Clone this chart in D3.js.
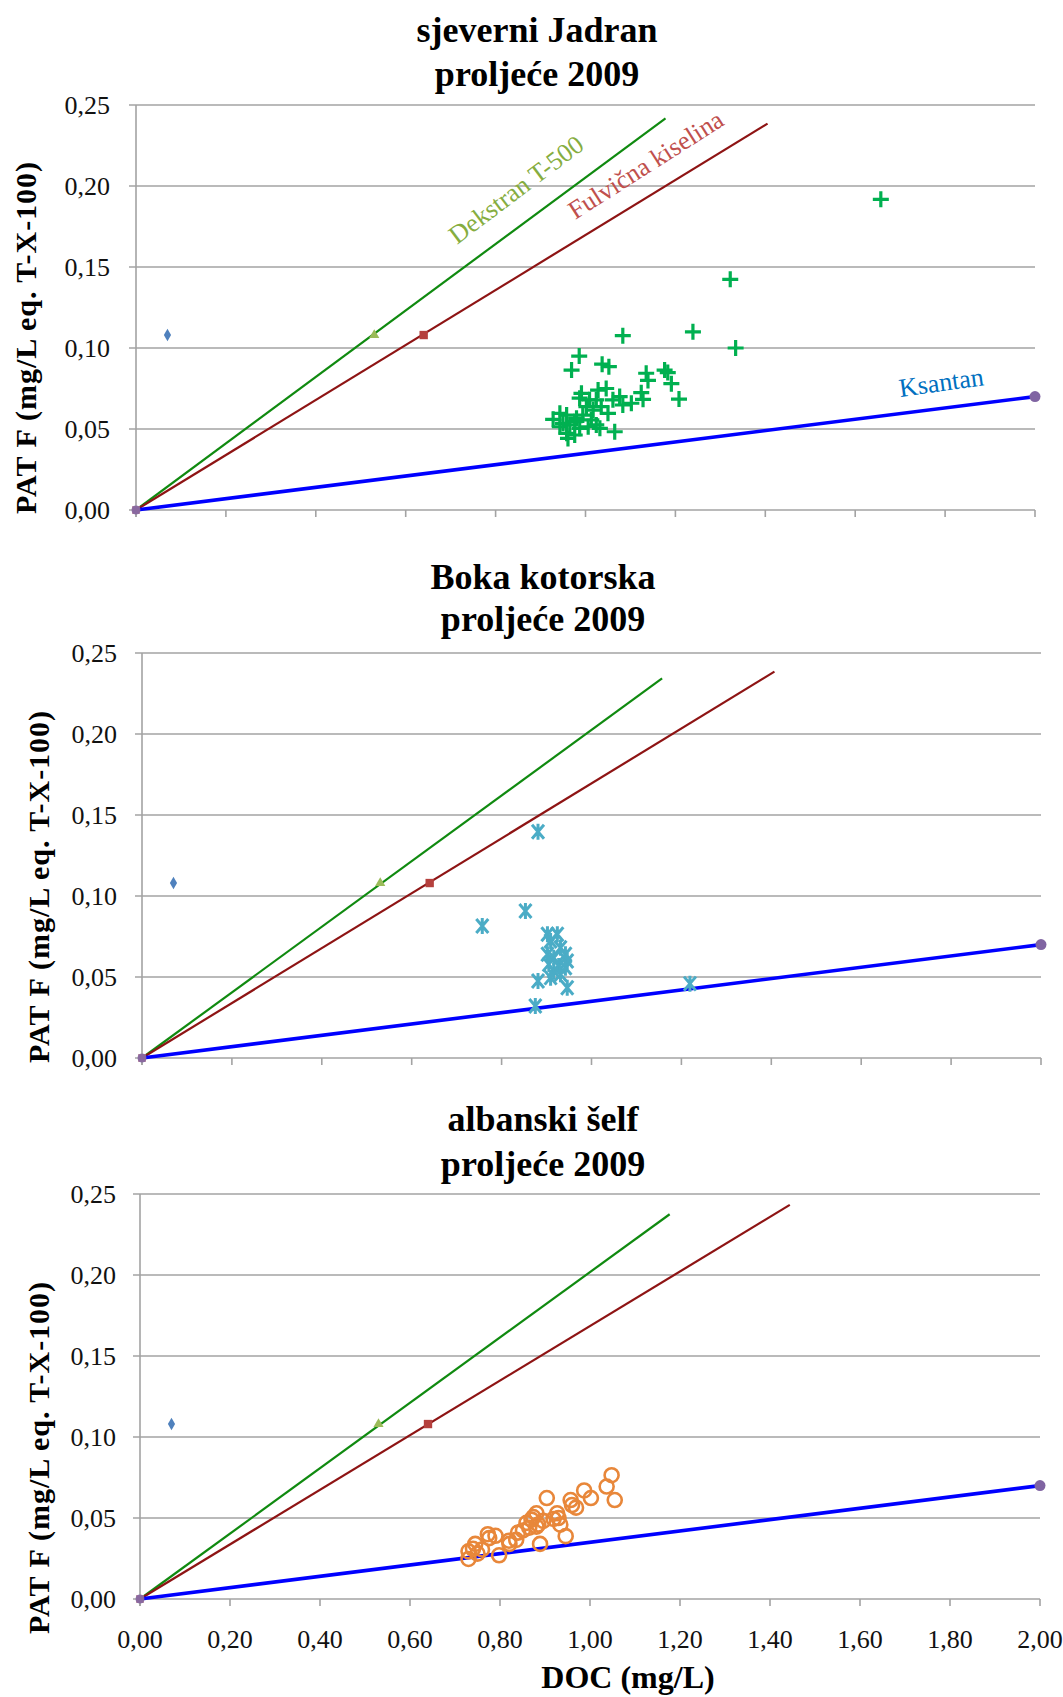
<!DOCTYPE html>
<html><head><meta charset="utf-8">
<script src="https://cdn.jsdelivr.net/npm/d3@7"></script>
<style>body{margin:0;background:#fff} svg{display:block}</style>
</head><body><svg id="c" width="1063" height="1697"></svg>
<script>
// ---------- DATA ----------
const xTicks = [0, 0.2, 0.4, 0.6, 0.8, 1.0, 1.2, 1.4, 1.6, 1.8, 2.0];
const yTicks = [0, 0.05, 0.10, 0.15, 0.20, 0.25];
const titles = ["sjeverni Jadran", "Boka kotorska", "albanski šelf"];
const subtitle = "proljeće 2009";
const yLabel = "PAT F (mg/L eq. T-X-100)";
const xLabel = "DOC (mg/L)";
const lineNames = ["Dekstran T-500", "Fulvična kiselina", "Ksantan"];

// standards (DOC, PAT F)
const diamondStd = [0.07, 0.108];
const triangleStd = [0.53, 0.108];
const squareStd = [0.64, 0.108];
const ksantanStd = [2.0, 0.07];
const origin = [0, 0];

// calibration line end points per panel
const dekstranEnd = [[1.178, 0.2418], [1.157, 0.2343], [1.177, 0.2375]];
const fulvicEnd   = [[1.405, 0.2385], [1.407, 0.2385], [1.444, 0.2433]];
const ksantanEnd  = [[2.0, 0.07], [2.0, 0.07], [2.0, 0.07]];

// samples
const jadranPts = [
 [1.083,0.1076],[1.239,0.110],[1.334,0.100],[0.986,0.095],[0.969,0.0864],[1.037,0.090],[1.052,0.0885],
 [1.135,0.0844],[1.176,0.0864],[1.183,0.0848],[1.139,0.080],[1.191,0.078],[1.208,0.0685],[1.124,0.0724],
 [1.128,0.0683],[1.102,0.0659],[1.076,0.070],[1.083,0.0648],[1.061,0.068],[1.046,0.075],[1.028,0.074],
 [1.024,0.068],[1.009,0.068],[0.991,0.072],[0.987,0.069],[1.002,0.0638],[1.017,0.0617],[1.035,0.0638],
 [1.050,0.0597],[0.994,0.0586],[0.980,0.0566],[1.013,0.0556],[0.943,0.0597],[0.928,0.056],[0.958,0.0586],
 [0.950,0.0535],[0.965,0.0525],[0.943,0.0514],[0.958,0.0473],[0.961,0.0442],[0.976,0.0463],[0.987,0.0504],
 [1.006,0.0514],[1.032,0.0504],[1.065,0.0483],[1.024,0.0525],[0.976,0.0545],[1.657,0.1918],[1.322,0.1424]
];
const bokaPts = [
 [0.881,0.1397],[0.853,0.0907],[0.757,0.0815],[0.902,0.0764],[0.924,0.0764],[0.909,0.0722],[0.931,0.068],
 [0.942,0.064],[0.902,0.064],[0.916,0.0619],[0.946,0.0599],[0.905,0.0578],[0.927,0.0568],[0.942,0.0557],
 [0.916,0.0537],[0.931,0.0517],[0.909,0.0496],[0.881,0.0475],[0.946,0.0434],[0.875,0.0321],[1.219,0.0459]
];
const albaniaPts = [
 [0.730,0.0294],[0.730,0.0247],[0.745,0.034],[0.760,0.0306],[0.776,0.0376],[0.773,0.040],[0.798,0.027],
 [0.821,0.034],[0.836,0.0365],[0.851,0.0423],[0.859,0.047],[0.874,0.0506],[0.881,0.0529],[0.881,0.0447],
 [0.896,0.0482],[0.904,0.0623],[0.889,0.034],[0.919,0.0494],[0.927,0.0529],[0.934,0.0459],[0.946,0.0388],
 [0.957,0.0611],[0.969,0.0564],[0.987,0.067],[1.002,0.0623],[1.037,0.0694],[1.048,0.0764],[1.055,0.0611],
 [0.740,0.031],[0.750,0.028],[0.790,0.039],[0.820,0.036],[0.840,0.041],[0.865,0.044],[0.870,0.049],
 [0.885,0.046],[0.930,0.050],[0.960,0.058]
];
const samples = [jadranPts, bokaPts, albaniaPts];
const sampleKind = ["plus", "star", "circle"];

// ---------- LAYOUT ----------
const layout = [
 {x0:136, x1:1035, yT:105, yB:510, tX:537, tY:[42,86], lX:36, lY:338, tickR:110},
 {x0:142, x1:1041, yT:653, yB:1058, tX:543, tY:[589,631], lX:49, lY:887, tickR:117},
 {x0:140, x1:1040, yT:1194, yB:1599, tX:543, tY:[1131,1176], lX:49, lY:1458, tickR:116}
];
const serif = "'Liberation Serif','Times New Roman',serif";
const loc = d3.formatLocale({decimal:",", thousands:".", grouping:[3], currency:["",""]});
const f2 = loc.format(".2f");

const svg = d3.select("#c");
svg.append("rect").attr("width",1063).attr("height",1697).attr("fill","#fff");

layout.forEach((L, i) => {
  const x = d3.scaleLinear().domain([0, 2]).range([L.x0, L.x1]);
  const y = d3.scaleLinear().domain([0, 0.25]).range([L.yB, L.yT]);
  const g = svg.append("g");

  // title
  g.append("text").attr("x", L.tX).attr("y", L.tY[0]).attr("text-anchor","middle")
    .attr("font-family", serif).attr("font-weight","bold").attr("font-size",36).text(titles[i]);
  g.append("text").attr("x", L.tX).attr("y", L.tY[1]).attr("text-anchor","middle")
    .attr("font-family", serif).attr("font-weight","bold").attr("font-size",36).text(subtitle);

  // gridlines
  g.selectAll(".grid").data(yTicks).enter().append("line")
    .attr("x1", L.x0 - 7).attr("x2", L.x1).attr("y1", d => y(d)).attr("y2", d => y(d))
    .attr("stroke", "#a3a3a3").attr("stroke-width", 1.6);
  // y axis line
  g.append("line").attr("x1", L.x0).attr("x2", L.x0).attr("y1", y(0.25)).attr("y2", y(0) + 7)
    .attr("stroke", "#a3a3a3").attr("stroke-width", 1.6);
  // x ticks
  g.selectAll(".xt").data(xTicks).enter().append("line")
    .attr("x1", d => x(d)).attr("x2", d => x(d)).attr("y1", y(0)).attr("y2", y(0) + 7)
    .attr("stroke", "#a3a3a3").attr("stroke-width", 1.6);
  // y tick labels
  g.selectAll(".yl").data(yTicks).enter().append("text")
    .attr("x", L.tickR).attr("y", d => y(d)).attr("dy", "0.35em").attr("text-anchor","end")
    .attr("font-family", serif).attr("font-size", 26).attr("fill","#111").text(d => f2(d));
  // y label
  g.append("text").attr("transform", `translate(${L.lX},${L.lY}) rotate(-90)`)
    .attr("text-anchor","middle").attr("font-family", serif).attr("font-weight","bold")
    .attr("font-size", 30).attr("textLength", 352).attr("lengthAdjust","spacing").text(yLabel);

  if (i === 2) {
    g.selectAll(".xl").data(xTicks).enter().append("text")
      .attr("x", d => x(d)).attr("y", 1648).attr("text-anchor","middle")
      .attr("font-family", serif).attr("font-size", 26).attr("fill","#111").text(d => f2(d));
    g.append("text").attr("x", (L.x0 + L.x1) / 2 + 38).attr("y", 1688).attr("text-anchor","middle")
      .attr("font-family", serif).attr("font-weight","bold").attr("font-size", 32).text(xLabel);
  }

  // calibration lines
  const lineG = d3.line().x(d => x(d[0])).y(d => y(d[1]));
  g.append("path").attr("d", lineG([origin, dekstranEnd[i]])).attr("stroke","#108a10").attr("stroke-width",2.2).attr("fill","none");
  g.append("path").attr("d", lineG([origin, fulvicEnd[i]])).attr("stroke","#8e1414").attr("stroke-width",2.2).attr("fill","none");
  g.append("path").attr("d", lineG([origin, ksantanEnd[i]])).attr("stroke","#0000ff").attr("stroke-width",3.6).attr("fill","none");

  // standards
  const sym = (type, size) => d3.symbol().type(type).size(size)();
  g.append("path").attr("d", sym(d3.symbolDiamond, 45)).attr("transform", `translate(${x(diamondStd[0])},${y(diamondStd[1])})`).attr("fill","#4f81bd");
  g.append("path").attr("d", sym(d3.symbolTriangle, 45)).attr("transform", `translate(${x(triangleStd[0])},${y(triangleStd[1])})`).attr("fill","#9bbb59");
  g.append("path").attr("d", sym(d3.symbolSquare, 70)).attr("transform", `translate(${x(squareStd[0])},${y(squareStd[1])})`).attr("fill","#b5403d");
  g.append("path").attr("d", sym(d3.symbolSquare, 60)).attr("transform", `translate(${x(origin[0])},${y(origin[1])})`).attr("fill","#b07890");
  g.append("circle").attr("cx", x(origin[0])).attr("cy", y(origin[1])).attr("r",4.5).attr("fill","#8064a2").attr("opacity",0.8);
  g.append("circle").attr("cx", x(ksantanStd[0])).attr("cy", y(ksantanStd[1])).attr("r",5.5).attr("fill","#8064a2");

  // samples
  const pts = g.selectAll(".pt").data(samples[i]).enter();
  if (sampleKind[i] === "plus") {
    pts.append("path").attr("d","M-8,0H8M0,-8V8").attr("transform", d => `translate(${x(d[0])},${y(d[1])})`)
      .attr("stroke","#00b050").attr("stroke-width",3.2).attr("fill","none");
  } else if (sampleKind[i] === "star") {
    pts.append("path").attr("d","M-6,-7L6,7M-6,7L6,-7M0,-8V8").attr("transform", d => `translate(${x(d[0])},${y(d[1])})`)
      .attr("stroke","#4bacc6").attr("stroke-width",3).attr("fill","none");
  } else {
    pts.append("circle").attr("cx", d => x(d[0])).attr("cy", d => y(d[1])).attr("r",7)
      .attr("stroke","#e8873a").attr("stroke-width",2.6).attr("fill","none");
  }

  // line annotations (panel 1 only)
  if (i === 0) {
    const ann = [
      {t: lineNames[0], p:[0.714, 0.1636], a:-37, c:"#86ad3f"},
      {t: lineNames[1], p:[0.977, 0.179], a:-32.5, c:"#c0504d"},
      {t: lineNames[2], p:[1.70, 0.0698], a:-8, c:"#0070c0"}
    ];
    ann.forEach(A => {
      g.append("text").attr("transform", `translate(${x(A.p[0])},${y(A.p[1])}) rotate(${A.a})`)
        .attr("font-family", serif).attr("font-size", 26).attr("fill", A.c).text(A.t);
    });
  }
});
</script></body></html>
